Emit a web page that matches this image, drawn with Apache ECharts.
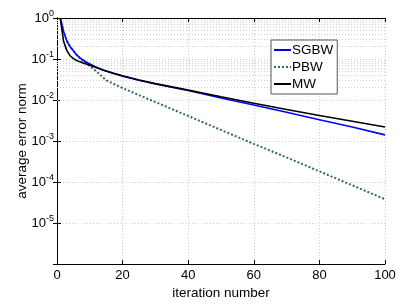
<!DOCTYPE html>
<html><head><meta charset="utf-8">
<script src="https://cdn.jsdelivr.net/npm/echarts@6/dist/echarts.min.js"></script>
<style>html,body{margin:0;padding:0;background:#fff}#c{width:415px;height:305px}</style>
</head><body><div id="c"></div>
<script>
var iterations = [1,2,3,4,5,6,7,8,9,10,12,14,17,20,25,30,35,40,50,60,70,80,90,100];
var sgbw = [1,0.468,0.275,0.200,0.158,0.126,0.107,0.0933,0.0832,0.0759,0.0631,0.0537,0.0447,0.0380,0.0302,0.0245,0.0204,0.0170,0.0112,0.00759,0.00501,0.00331,0.00219,0.00141];
var mw = [1,0.270,0.160,0.120,0.102,0.0920,0.0851,0.0794,0.0759,0.0708,0.0617,0.0537,0.0457,0.0389,0.0309,0.0251,0.0209,0.0174,0.0120,0.00832,0.00589,0.00417,0.00302,0.00219];
var pbwIter = [1,2,3,4,5,6,7,8,9,10,12,15,20,30,40,50,60,70,80,90,100];
var pbw = [1,0.468,0.275,0.200,0.158,0.126,0.105,0.0891,0.0776,0.0676,0.0501,0.0302,0.0195,0.00891,0.00407,0.00186,0.000851,0.000398,0.000182,0.0000832,0.0000380];
var seriesNames = ['SGBW','PBW','MW'];
var xTicks = [0,20,40,60,80,100];
var yDecades = [-6,-5,-4,-3,-2,-1,0];
var minorMultipliers = [2,3,4,5,6,7,8,9];

function pairs(xs, ys){ return xs.map(function(x,i){return [x, ys[i]];}); }
var minorLines = [];
yDecades.slice(0,-1).forEach(function(d){
  minorMultipliers.forEach(function(m){ minorLines.push({yAxis: m*Math.pow(10,d)}); });
});
var FONT = 'Liberation Sans, Arial, sans-serif';
var GRID_STYLE = {color:'#cfcfcf', type:[1,2], width:1};
var chart = echarts.init(document.getElementById('c'));
chart.setOption({
  animation:false,
  grid: {left:57, right:30, top:18, bottom:39},
  legend: {
    data: seriesNames, orient:'vertical', left:271, top:40,
    padding:[3,4,3,2], itemGap:3, itemWidth:17, itemHeight:14,
    backgroundColor:'#fff', borderColor:'#555', borderWidth:1,
    itemStyle:{opacity:0},
    textStyle:{fontFamily:FONT, fontSize:13.5, color:'#000', padding:[0,0,0,-4]}
  },
  xAxis: [{
    type:'value', min:0, max:100, interval:20,
    name:'iteration number', nameLocation:'middle', nameGap:22,
    nameMoveOverlap:false,
    nameTextStyle:{fontFamily:FONT, fontSize:13.5, color:'#000'},
    axisLine:{lineStyle:{color:'#000', width:1}},
    axisTick:{inside:true, length:4, lineStyle:{color:'#000'}},
    axisLabel:{fontFamily:FONT, fontSize:13, color:'#000', margin:5},
    splitLine:{show:true, lineStyle:GRID_STYLE}
  },{
    type:'value', min:0, max:100, interval:20, position:'top',
    axisLine:{show:true, lineStyle:{color:'#000'}},
    axisTick:{inside:true, length:4, lineStyle:{color:'#000'}},
    axisLabel:{show:false}, splitLine:{show:false}
  }],
  yAxis: [{
    type:'log', logBase:10, min:1e-6, max:1,
    name:'average error norm', nameLocation:'middle', nameGap:28,
    nameMoveOverlap:false,
    nameTextStyle:{fontFamily:FONT, fontSize:13.5, color:'#000'},
    axisLine:{show:true, lineStyle:{color:'#000'}},
    axisTick:{inside:true, length:4, lineStyle:{color:'#000'}},
    axisLabel:{margin:3, formatter:function(v){
      var e = Math.round(Math.log(v)/Math.LN10);
      if (e === -6) return '';
      return '{b|10}{s|' + e + '}';
    }, rich:{
      b:{fontFamily:FONT, fontSize:13, color:'#000'},
      s:{fontFamily:FONT, fontSize:9, color:'#000', verticalAlign:'bottom', padding:[0,0,9,0]}
    }},
    splitLine:{show:true, lineStyle:GRID_STYLE}
  },{
    type:'log', logBase:10, min:1e-6, max:1, position:'right',
    axisLine:{show:true, lineStyle:{color:'#000'}},
    axisTick:{inside:true, length:4, lineStyle:{color:'#000'}},
    axisLabel:{show:false}, splitLine:{show:false}
  }],
  series: [{
    name: seriesNames[0], type:'line', data: pairs(iterations, sgbw),
    symbol:'none', z:4,
    lineStyle:{color:'#0000ff', width:1.6}, itemStyle:{color:'#0000ff'},
    markLine:{silent:true, symbol:'none', label:{show:false}, animation:false,
      lineStyle:GRID_STYLE, data: minorLines, z:1}
  },{
    name: seriesNames[1], type:'line', data: pairs(pbwIter, pbw),
    symbol:'none', z:3,
    lineStyle:{color:'#2f6e55', width:2, type:[2,2]}, itemStyle:{color:'#2f6e55'}
  },{
    name: seriesNames[2], type:'line', data: pairs(iterations, mw),
    symbol:'none', z:5,
    lineStyle:{color:'#000', width:1.6}, itemStyle:{color:'#000'}
  }]
});
</script></body></html>
